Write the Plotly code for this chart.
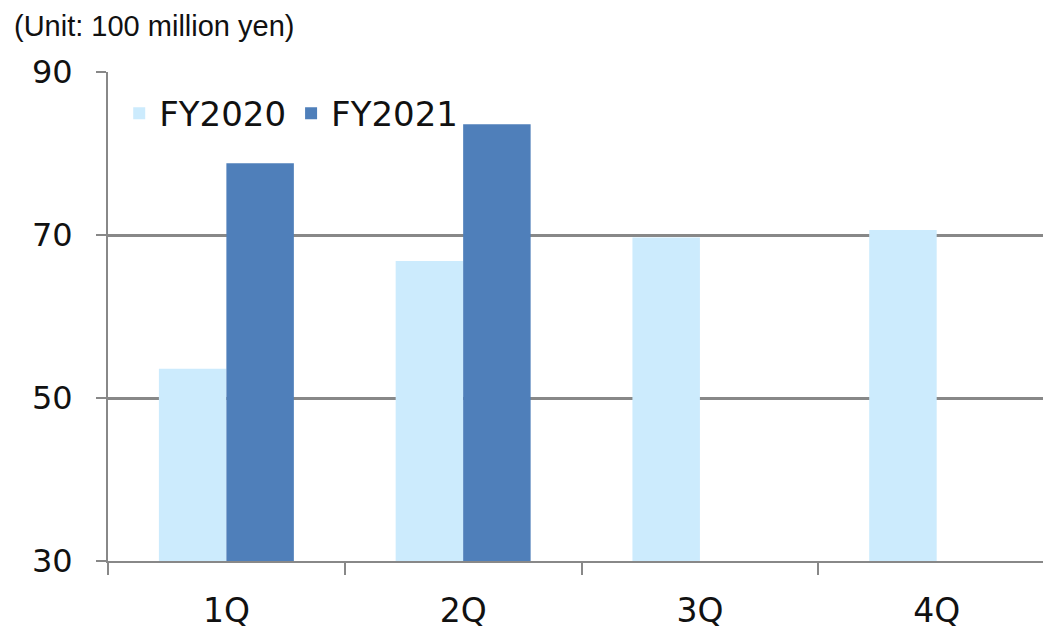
import plotly.graph_objects as go

categories = ["1Q", "2Q", "3Q", "4Q"]
fy2020 = [53.6, 66.8, 69.7, 70.6]
fy2021 = [78.8, 83.6, None, None]
y_ticks = [30, 50, 70, 90]

font_main = "DejaVu Sans, Verdana, sans-serif"

fig = go.Figure()
fig.add_trace(go.Bar(name="FY2020", x=categories, y=fy2020,
                     marker=dict(color="#CCEBFD", line=dict(width=0))))
fig.add_trace(go.Bar(name="FY2021", x=categories, y=fy2021,
                     marker=dict(color="#4F7FBA", line=dict(width=0))))

fig.update_layout(
    width=1043, height=630,
    margin=dict(l=108, r=0, t=72, b=69),
    paper_bgcolor="white", plot_bgcolor="white",
    barmode="group", bargap=0.43, bargroupgap=0,
    font=dict(family=font_main, color="#111111"),
    showlegend=True,
    legend=dict(orientation="h", x=0.012, y=0.915, xanchor="left", yanchor="middle",
                bgcolor="rgba(0,0,0,0)", font=dict(size=34, family=font_main),
                itemwidth=30, tracegroupgap=0),
    annotations=[dict(text="(Unit: 100 million yen)", xref="paper", yref="paper",
                      x=-96/935, y=1 + 46/489, xanchor="left", yanchor="middle",
                      showarrow=False,
                      font=dict(size=29, family="Liberation Sans, Arial, sans-serif", color="#111111"))],
)
fig.update_xaxes(
    type="category", range=[-0.5, 3.449],
    showline=True, linecolor="#888888", linewidth=2,
    ticks="outside", tickson="boundaries", ticklen=12, tickwidth=2, tickcolor="#888888",
    tickfont=dict(size=33, family=font_main), ticklabelstandoff=19,
    showgrid=False,
)
fig.update_yaxes(
    range=[30, 90], tickvals=y_ticks,
    showline=True, linecolor="#888888", linewidth=2,
    ticks="outside", ticklen=10, tickwidth=2, tickcolor="#888888",
    tickfont=dict(size=32, family=font_main), ticklabelstandoff=17,
    showgrid=True, gridcolor="#888888", gridwidth=2.5,
    zeroline=False,
)

fig.write_html("out.html")
